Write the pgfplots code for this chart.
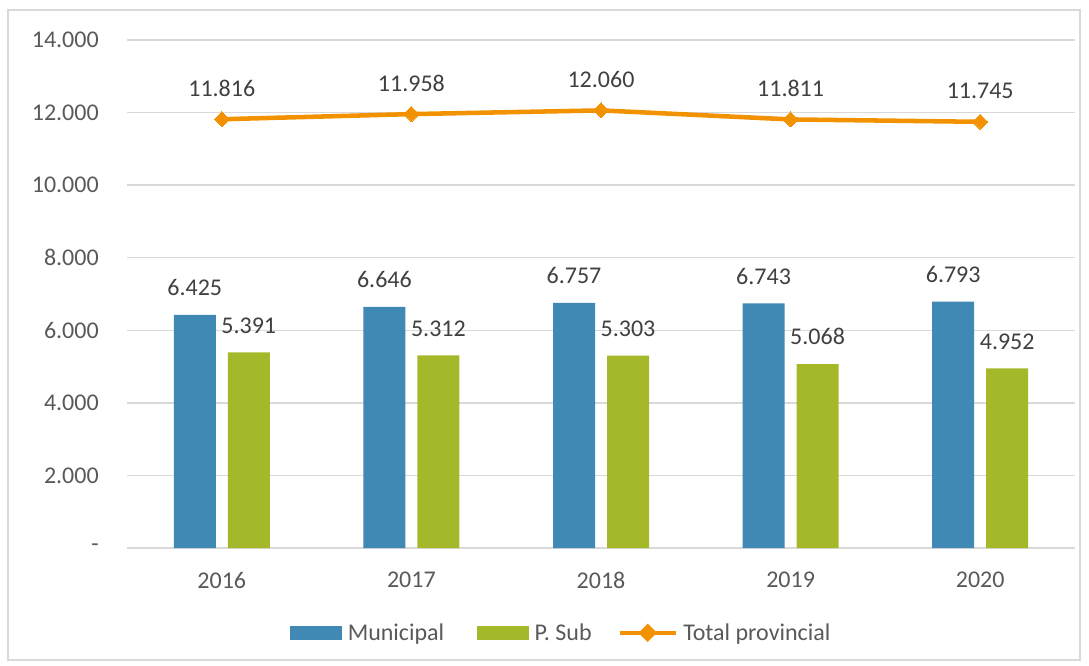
\documentclass[border=0pt]{standalone}
\usepackage{pgfplots}
\pgfplotsset{compat=1.18}
\usepackage{fontspec}
\setmainfont{Carlito}
\definecolor{mblue}{HTML}{3F89B4}
\definecolor{pgreen}{HTML}{A5B829}
\definecolor{torange}{HTML}{F39200}
\definecolor{gridgray}{HTML}{D9D9D9}
\definecolor{ticktext}{HTML}{595959}
\definecolor{labtext}{HTML}{404040}
\begin{document}
\begin{tikzpicture}
\path[use as bounding box] (0pt,0pt) rectangle (816.75pt,498.75pt);
\draw[gridgray, line width=1.2pt] (6pt,3.75pt) rectangle (810pt,491.25pt);
\begin{axis}[
  at={(95.25pt,87.75pt)}, anchor=south west,
  scale only axis, width=711pt, height=381pt,
  xmin=-0.5, xmax=4.5, ymin=0, ymax=14000,
  scaled y ticks=false,
  axis line style={draw=none},
  major tick length=0pt,
  ymajorgrids, grid style={gridgray, line width=1pt},
  xtick={0,1,2,3,4}, xticklabels={2016,2017,2018,2019,2020},
  ytick={0,2000,4000,6000,8000,10000,12000,14000},
  yticklabels={-,2.000,4.000,6.000,8.000,10.000,12.000,14.000},
  tick label style={font=\fontsize{18pt}{21pt}\selectfont, text=ticktext},
  xticklabel style={inner sep=0pt, anchor=north, yshift=-18pt},
  yticklabel style={inner sep=0pt, anchor=east, xshift=-21pt},
  /pgf/number format/.cd, 1000 sep={.}, fixed, precision=0, assume math mode=true, /pgfplots/.cd,
  nodes near coords style={font=\fontsize{18pt}{21pt}\selectfont, text=labtext, inner sep=0pt, anchor=south},
  legend style={draw=none, fill=none, legend columns=3, at={(0.460,-0.167)}, anchor=center,
    font=\fontsize{18pt}{21pt}\selectfont, text=ticktext,
    /tikz/column 2/.style={column sep=20.75pt},
    /tikz/column 4/.style={column sep=15.3pt},
    nodes={inner xsep=4pt, inner ysep=0pt}},
]
\addplot[ybar, bar width=31.5pt, bar shift=-20.25pt, fill=mblue, draw=none,
  nodes near coords, nodes near coords style={yshift=14pt, xshift=-20.25pt},
  legend image code/.code={\fill[mblue] (0pt,-5.25pt) rectangle (39pt,5.25pt);}]
  coordinates {(0,6425) (1,6646) (2,6757) (3,6743) (4,6793)};
\addlegendentry{Municipal}
\addplot[ybar, bar width=31.5pt, bar shift=20.25pt, fill=pgreen, draw=none,
  nodes near coords, nodes near coords style={yshift=14pt, xshift=20.25pt},
  legend image code/.code={\fill[pgreen] (0pt,-5.25pt) rectangle (39pt,5.25pt);}]
  coordinates {(0,5391) (1,5312) (2,5303) (3,5068) (4,4952)};
\addlegendentry{P. Sub}
\addplot[torange, line width=3.4pt, mark=square*, mark size=4pt, mark options={solid, fill=torange, line width=0pt, rotate=45},
  nodes near coords, nodes near coords style={yshift=17pt},
  legend image code/.code={\draw[torange, line width=3.4pt] (0pt,0pt) -- (42pt,0pt);
     \fill[torange] (21pt,4.5pt) -- (25.5pt,0pt) -- (21pt,-4.5pt) -- (16.5pt,0pt) -- cycle;}]
  coordinates {(0,11816) (1,11958) (2,12060) (3,11811) (4,11745)};
\addlegendentry{Total provincial}
\end{axis}
\end{tikzpicture}
\end{document}
